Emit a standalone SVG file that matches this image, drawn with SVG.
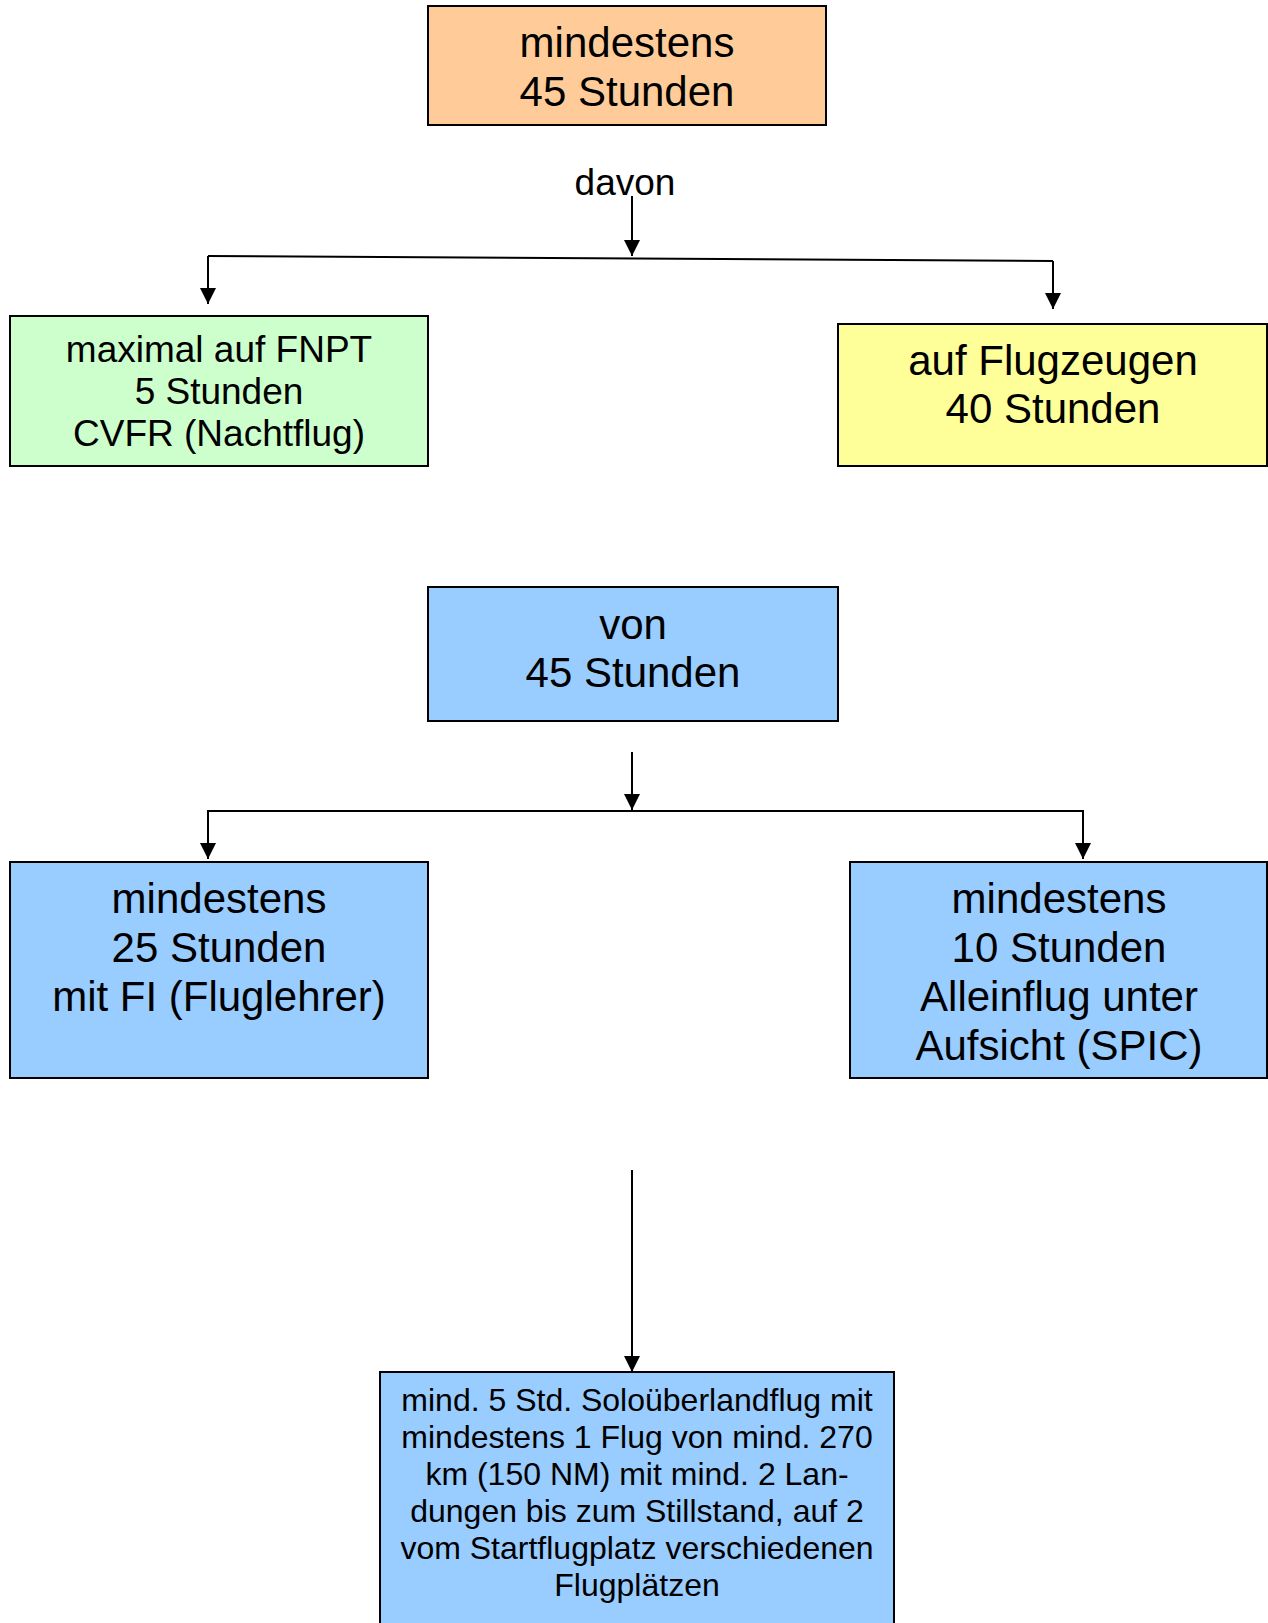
<svg xmlns="http://www.w3.org/2000/svg" width="1268" height="1623" viewBox="0 0 1268 1623">
<style>
.box{stroke:#000;stroke-width:2}
.t{font-family:"Liberation Sans",Arial,sans-serif;fill:#000;text-anchor:middle}
.ln{stroke:#000;stroke-width:2;fill:none}
</style>
<defs>
<marker id="ah" viewBox="0 0 10 10" refX="10" refY="5" markerWidth="16" markerHeight="16" markerUnits="userSpaceOnUse" orient="auto">
<path d="M0,0 L10,5 L0,10 z" fill="#000"/>
</marker>
</defs>
<rect width="1268" height="1623" fill="#fff"/>
<g id="connectors">
<line class="ln" x1="632" y1="196" x2="632" y2="256" marker-end="url(#ah)"/>
<line class="ln" x1="208" y1="256" x2="1053" y2="261"/>
<line class="ln" x1="208" y1="256" x2="208" y2="304" marker-end="url(#ah)"/>
<line class="ln" x1="1053" y1="261" x2="1053" y2="309" marker-end="url(#ah)"/>
<line class="ln" x1="632" y1="752" x2="632" y2="810" marker-end="url(#ah)"/>
<line class="ln" x1="208" y1="811" x2="1083" y2="811"/>
<line class="ln" x1="208" y1="810" x2="208" y2="859" marker-end="url(#ah)"/>
<line class="ln" x1="1083" y1="810" x2="1083" y2="859" marker-end="url(#ah)"/>
<line class="ln" x1="632" y1="1170" x2="632" y2="1372" marker-end="url(#ah)"/>
</g>
<g id="label-davon">
<text class="t" x="625" y="195" font-size="37">davon</text>
</g>
<g id="node-total">
<rect class="box" x="428" y="6" width="398" height="119" fill="#FFCC99"/>
<text class="t" x="627" y="57" font-size="42">mindestens</text>
<text class="t" x="627" y="106" font-size="42">45 Stunden</text>
</g>
<g id="node-fnpt">
<rect class="box" x="10" y="316" width="418" height="150" fill="#CCFFCC"/>
<text class="t" x="219" y="362" font-size="37">maximal auf FNPT</text>
<text class="t" x="219" y="404" font-size="37">5 Stunden</text>
<text class="t" x="219" y="446" font-size="37">CVFR (Nachtflug)</text>
</g>
<g id="node-flugzeug">
<rect class="box" x="838" y="324" width="429" height="142" fill="#FFFF99"/>
<text class="t" x="1053" y="375" font-size="42">auf Flugzeugen</text>
<text class="t" x="1053" y="423" font-size="42">40 Stunden</text>
</g>
<g id="node-von">
<rect class="box" x="428" y="587" width="410" height="134" fill="#99CCFF"/>
<text class="t" x="633" y="639" font-size="42">von</text>
<text class="t" x="633" y="687" font-size="42">45 Stunden</text>
</g>
<g id="node-fi">
<rect class="box" x="10" y="862" width="418" height="216" fill="#99CCFF"/>
<text class="t" x="219" y="913" font-size="42">mindestens</text>
<text class="t" x="219" y="962" font-size="42">25 Stunden</text>
<text class="t" x="219" y="1011" font-size="42">mit FI (Fluglehrer)</text>
</g>
<g id="node-spic">
<rect class="box" x="850" y="862" width="417" height="216" fill="#99CCFF"/>
<text class="t" x="1059" y="913" font-size="42">mindestens</text>
<text class="t" x="1059" y="962" font-size="42">10 Stunden</text>
<text class="t" x="1059" y="1011" font-size="42">Alleinflug unter</text>
<text class="t" x="1059" y="1060" font-size="42">Aufsicht (SPIC)</text>
</g>
<g id="node-solo">
<rect class="box" x="380" y="1372" width="514" height="260" fill="#99CCFF"/>
<text class="t" x="637" y="1411" font-size="32">mind. 5 Std. Soloüberlandflug mit</text>
<text class="t" x="637" y="1448" font-size="32">mindestens 1 Flug von mind. 270</text>
<text class="t" x="637" y="1485" font-size="32">km (150 NM) mit mind. 2 Lan-</text>
<text class="t" x="637" y="1522" font-size="32">dungen bis zum Stillstand, auf 2</text>
<text class="t" x="637" y="1559" font-size="32">vom Startflugplatz verschiedenen</text>
<text class="t" x="637" y="1596" font-size="32">Flugplätzen</text>
</g>
</svg>
